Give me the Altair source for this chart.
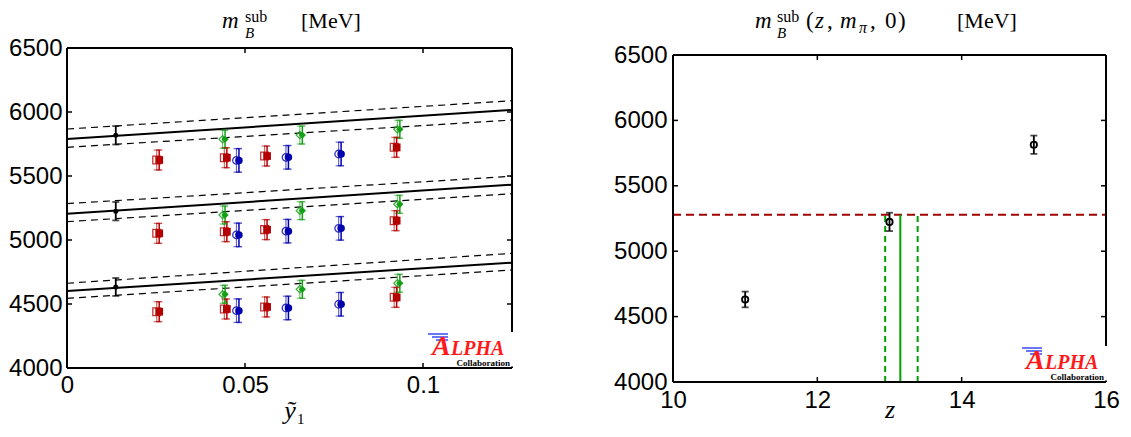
import altair as alt
import pandas as pd

# ---------------- left panel data ----------------
cont_x = [0.0137, 0.0137, 0.0137]
cont_mB = [4633, 5225, 5818]
cont_err = [70, 72, 72]

red_x = [0.0259, 0.0449, 0.0562, 0.0926]
red_z11 = [4440, 4461, 4477, 4552]
red_z13 = [5052, 5065, 5081, 5151]
red_z15 = [5625, 5643, 5656, 5724]
red_err = [78, 78, 78, 78]

blue_x = [0.0483, 0.0622, 0.0770]
blue_z11 = [4448, 4469, 4498]
blue_z13 = [5040, 5069, 5091]
blue_z15 = [5622, 5646, 5672]
blue_err = [92, 92, 92]

green_x = [0.0444, 0.0661, 0.0935]
green_z11 = [4576, 4615, 4662]
green_z13 = [5195, 5229, 5279]
green_z15 = [5787, 5820, 5865]
green_err = [70, 70, 70]

fit_x = [0.0, 0.125]
fit_z11 = [4602, 4823]
fit_z11_hi = [4662, 4896]
fit_z11_lo = [4544, 4766]
fit_z13 = [5205, 5432]
fit_z13_hi = [5284, 5498]
fit_z13_lo = [5143, 5362]
fit_z15 = [5789, 6016]
fit_z15_hi = [5867, 6088]
fit_z15_lo = [5724, 5937]

left_x_domain = [0, 0.125]
left_x_ticks = [0, 0.05, 0.1]
y_domain = [4000, 6500]
y_ticks = [4000, 4500, 5000, 5500, 6000, 6500]

# ---------------- right panel data ----------------
z_vals = [11, 13, 15]
mB_z = [4631, 5224, 5814]
mB_z_err = [60, 70, 70]
mB_phys = [5279]
z_b = [13.15]
z_b_band = [12.94, 13.39]
right_x_domain = [10, 16]
right_x_ticks = [10, 12, 14, 16]

# ---------------- styling ----------------
SANS = "Liberation Sans"
SERIF = "Liberation Serif"
RED = "#b40000"
BLUE = "#0000b0"
GREEN = "#14a014"
OPEN_DX = -0.0007

grp_domain = ["red", "blue", "green", "black"]
grp_colors = [RED, BLUE, GREEN, "black"]
grp_shapes = ["square", "circle", "diamond", "circle"]
grp_sizes = [60, 48, 55, 22]

one = pd.DataFrame({"k": [0]})


def vrule(x1, x2, y1, y2, color="black", width=2.0, opacity=1.0):
    return alt.Chart(one).mark_rule(color=color, strokeWidth=width, opacity=opacity).encode(
        x=alt.value(x1), x2=alt.value(x2), y=alt.value(y1), y2=alt.value(y2))


def vtext(txt, x, y, size, italic=False, bold=False, color="black", font=SERIF, align="left"):
    return alt.Chart(one).mark_text(
        text=txt, font=font, fontSize=size, fontStyle="italic" if italic else "normal",
        fontWeight="bold" if bold else "normal", color=color, align=align, baseline="alphabetic"
    ).encode(x=alt.value(x), y=alt.value(y))


def frame(W, H, T=0):
    return [vrule(0, W, T, T), vrule(0, 0, T, H), vrule(W, W, T, H)]


def logo(W, H):
    return [
        alt.Chart(one).mark_rect(fill="white").encode(
            x=alt.value(W - 85), x2=alt.value(W + 1.6), y=alt.value(H - 36), y2=alt.value(H - 1.5)),
        vrule(0, W, H, H),
        vrule(W - 84, W - 64, H - 34, H - 34, color="#2a3cf0", width=1.4),
        vrule(W - 80, W - 64, H - 31, H - 31, color="#2a3cf0", width=1.4),
        vrule(W - 76, W - 64, H - 28, H - 28, color="#2a3cf0", width=1.4),
        vtext("A", W - 80, H - 13, 28, italic=True, bold=True, color="#ff1a1a"),
        vtext("LPHA", W - 61, H - 13, 20, italic=True, bold=True, color="#ff1a1a"),
        vtext("Collaboration", W - 2, H - 2, 9, bold=True, align="right"),
    ]


def inner_ticks(xs_list, ys_list, xenc, yenc, W, H, T=0, L=5):
    xdf = pd.DataFrame({"v": xs_list})
    ydf = pd.DataFrame({"v": ys_list})
    return [
        alt.Chart(xdf).mark_rule(color="black", strokeWidth=1.5).encode(
            x=xenc("v:Q"), y=alt.value(H), y2=alt.value(H - L)),
        alt.Chart(xdf).mark_rule(color="black", strokeWidth=1.5).encode(
            x=xenc("v:Q"), y=alt.value(T), y2=alt.value(T + L)),
        alt.Chart(ydf).mark_rule(color="black", strokeWidth=1.5).encode(
            y=yenc("v:Q"), x=alt.value(0), x2=alt.value(L)),
        alt.Chart(ydf).mark_rule(color="black", strokeWidth=1.5).encode(
            y=yenc("v:Q"), x=alt.value(W - L), x2=alt.value(W)),
    ]


def y_axis(pad):
    return alt.Axis(values=y_ticks, format="d", title=None, ticks=False, domain=False, grid=False,
                    labelFont=SANS, labelFontSize=24, labelColor="black", labelPadding=pad,
                    labelFlush=False, labelOverlap=False)


def x_axis(values, fmt, pad):
    return alt.Axis(values=values, format=fmt, title=None, ticks=False, domain=False, grid=False,
                    labelFont=SANS, labelFontSize=24, labelColor="black", labelPadding=pad,
                    labelFlush=False, labelOverlap=False)


# ---------------- left panel ----------------
WL, HL = 445, 320
xs_left = alt.Scale(domain=left_x_domain, nice=False, zero=False)
ys_left = alt.Scale(domain=y_domain, nice=False, zero=False)
ax_left = x_axis(left_x_ticks, ".2~f", 5)
ay_left = y_axis(5)


def XL(f):
    return alt.X(f, scale=xs_left, axis=ax_left)


def YL(f):
    return alt.Y(f, scale=ys_left, axis=ay_left)


rows = []
for grp, xs, groups, errs in [("red", red_x, [red_z11, red_z13, red_z15], red_err),
                              ("blue", blue_x, [blue_z11, blue_z13, blue_z15], blue_err),
                              ("green", green_x, [green_z11, green_z13, green_z15], green_err)]:
    for ys_ in groups:
        for x, y, e in zip(xs, ys_, errs):
            rows.append({"x": x, "y": y, "lo": y - e, "hi": y + e, "grp": grp})
pts = pd.DataFrame(rows)

cont = pd.DataFrame({"x": cont_x, "y": cont_mB, "err": cont_err})
cont["lo"] = cont["y"] - cont["err"]
cont["hi"] = cont["y"] + cont["err"]

fit_rows = []
for name, ys_, style in [("z11", fit_z11, "solid"), ("z11hi", fit_z11_hi, "dash"), ("z11lo", fit_z11_lo, "dash"),
                         ("z13", fit_z13, "solid"), ("z13hi", fit_z13_hi, "dash"), ("z13lo", fit_z13_lo, "dash"),
                         ("z15", fit_z15, "solid"), ("z15hi", fit_z15_hi, "dash"), ("z15lo", fit_z15_lo, "dash")]:
    for x, y in zip(fit_x, ys_):
        fit_rows.append({"x": x, "y": y, "name": name, "style": style})
fits = pd.DataFrame(fit_rows)

color_enc = alt.Color("grp:N", scale=alt.Scale(domain=grp_domain, range=grp_colors), legend=None)
shape_enc = alt.Shape("grp:N", scale=alt.Scale(domain=grp_domain, range=grp_shapes), legend=None)
size_enc = alt.Size("grp:N", scale=alt.Scale(domain=grp_domain, range=grp_sizes), legend=None)

dash_lines = alt.Chart(fits).transform_filter("datum.style == 'dash'").mark_line(
    color="black", strokeWidth=1.2, strokeDash=[7, 5]).encode(x=XL("x:Q"), y=YL("y:Q"), detail="name:N")
solid_lines = alt.Chart(fits).transform_filter("datum.style == 'solid'").mark_line(
    color="black", strokeWidth=2).encode(x=XL("x:Q"), y=YL("y:Q"), detail="name:N")

base_open = alt.Chart(pts).transform_calculate(xo=f"datum.x + ({OPEN_DX})")
open_bar = base_open.mark_rule(strokeWidth=1.2, opacity=0.6).encode(
    x=XL("xo:Q"), y=YL("lo:Q"), y2="hi:Q", color=color_enc)
open_cap_lo = base_open.mark_tick(orient="horizontal", size=6, thickness=1.2, opacity=0.6).encode(
    x=XL("xo:Q"), y=YL("lo:Q"), color=color_enc)
open_cap_hi = base_open.mark_tick(orient="horizontal", size=6, thickness=1.2, opacity=0.6).encode(
    x=XL("xo:Q"), y=YL("hi:Q"), color=color_enc)
open_pts = base_open.mark_point(filled=False, strokeWidth=1.3, opacity=0.8).encode(
    x=XL("xo:Q"), y=YL("y:Q"), color=color_enc, shape=shape_enc, size=size_enc)

base_f = alt.Chart(pts)
f_bar = base_f.mark_rule(strokeWidth=1.5).encode(x=XL("x:Q"), y=YL("lo:Q"), y2="hi:Q", color=color_enc)
f_cap_lo = base_f.mark_tick(orient="horizontal", size=6, thickness=1.5).encode(
    x=XL("x:Q"), y=YL("lo:Q"), color=color_enc)
f_cap_hi = base_f.mark_tick(orient="horizontal", size=6, thickness=1.5).encode(
    x=XL("x:Q"), y=YL("hi:Q"), color=color_enc)
f_pts = base_f.mark_point(filled=True, opacity=1).encode(
    x=XL("x:Q"), y=YL("y:Q"), color=color_enc, shape=shape_enc, size=size_enc)

base_c = alt.Chart(cont)
c_bar = base_c.mark_rule(strokeWidth=1.8, color="black").encode(x=XL("x:Q"), y=YL("lo:Q"), y2="hi:Q")
c_cap_lo = base_c.mark_tick(orient="horizontal", size=7, thickness=1.8, color="black").encode(
    x=XL("x:Q"), y=YL("lo:Q"))
c_cap_hi = base_c.mark_tick(orient="horizontal", size=7, thickness=1.8, color="black").encode(
    x=XL("x:Q"), y=YL("hi:Q"))
c_pts = base_c.mark_point(filled=True, opacity=1, color="black", size=25, shape="circle").encode(
    x=XL("x:Q"), y=YL("y:Q"))

left_title = [
    vtext("m", 155, -20, 23, italic=True),
    vtext("sub", 178, -26, 16),
    vtext("B", 178, -10, 15, italic=True),
    vtext("[MeV]", 234, -20, 22),
]
left_xtitle = [
    vtext("ỹ", 223, 371, 26, italic=True, align="center"),
    vtext("1", 230, 376, 15),
]
left_bound = [vrule(0, 0, -40, 0, width=0.1, opacity=0)]

left = alt.layer(
    dash_lines, solid_lines,
    open_bar, open_cap_lo, open_cap_hi, open_pts,
    f_bar, f_cap_lo, f_cap_hi, f_pts,
    c_bar, c_cap_lo, c_cap_hi, c_pts,
    *inner_ticks(left_x_ticks, y_ticks, XL, YL, WL, HL),
    *frame(WL, HL), *logo(WL, HL), *left_title, *left_xtitle, *left_bound,
).properties(width=WL, height=HL)

# ---------------- right panel ----------------
# the right plot box starts 7px lower than the left one: keep an empty strip on top
TR = 7
WR, HR = 433, 327 + TR
right_y_top = y_domain[1] + TR * (y_domain[1] - y_domain[0]) / (HR - TR)
xs_right = alt.Scale(domain=right_x_domain, nice=False, zero=False)
ys_right = alt.Scale(domain=[y_domain[0], right_y_top], nice=False, zero=False)
ax_right = x_axis(right_x_ticks, "d", 6)
ay_right = y_axis(6)


def XR(f):
    return alt.X(f, scale=xs_right, axis=ax_right)


def YR(f):
    return alt.Y(f, scale=ys_right, axis=ay_right)


rp = pd.DataFrame({"z": z_vals, "y": mB_z, "err": mB_z_err})
rp["lo"] = rp["y"] - rp["err"]
rp["hi"] = rp["y"] + rp["err"]

phys = pd.DataFrame({"y": mB_phys})
green_solid = pd.DataFrame({"z": z_b, "bot": [y_domain[0]], "top": mB_phys})
green_dash = pd.DataFrame({"z": z_b_band, "bot": [y_domain[0]] * 2, "top": mB_phys * 2})

r_hline = alt.Chart(phys).mark_rule(color="#a00000", strokeWidth=2, strokeDash=[8, 5]).encode(
    y=YR("y:Q"), x=alt.value(0), x2=alt.value(WR))
r_gsolid = alt.Chart(green_solid).mark_rule(color="#00a000", strokeWidth=2).encode(
    x=XR("z:Q"), y=YR("bot:Q"), y2="top:Q")
r_gdash = alt.Chart(green_dash).mark_rule(color="#00a000", strokeWidth=2, strokeDash=[6, 4]).encode(
    x=XR("z:Q"), y=YR("bot:Q"), y2="top:Q")
r_bar = alt.Chart(rp).mark_rule(color="black", strokeWidth=1.8).encode(x=XR("z:Q"), y=YR("lo:Q"), y2="hi:Q")
r_cap_lo = alt.Chart(rp).mark_tick(orient="horizontal", size=7, thickness=1.8, color="black").encode(
    x=XR("z:Q"), y=YR("lo:Q"))
r_cap_hi = alt.Chart(rp).mark_tick(orient="horizontal", size=7, thickness=1.8, color="black").encode(
    x=XR("z:Q"), y=YR("hi:Q"))
r_pts = alt.Chart(rp).mark_point(filled=False, color="black", strokeWidth=1.8, size=40, opacity=1,
                                 shape="circle").encode(x=XR("z:Q"), y=YR("y:Q"))

right_title = [
    vtext("m", 82, -20, 23, italic=True),
    vtext("sub", 104, -26, 16),
    vtext("B", 104, -10, 15, italic=True),
    vtext("(", 133, -20, 23),
    vtext("z", 142, -20, 23, italic=True),
    vtext(",", 154, -20, 23),
    vtext("m", 167, -20, 23, italic=True),
    vtext("π", 186, -15, 16, italic=True),
    vtext(",", 197, -20, 23),
    vtext("0", 212, -20, 23),
    vtext(")", 225, -20, 23),
    vtext("[MeV]", 284, -20, 22),
]
right_xtitle = [vtext("z", 217, 370, 26, italic=True, align="center")]
right_bound = [vrule(0, 0, -40, 0, width=0.1, opacity=0)]

right = alt.layer(
    r_hline, r_gsolid, r_gdash, r_bar, r_cap_lo, r_cap_hi, r_pts,
    *inner_ticks(right_x_ticks, y_ticks, XR, YR, WR, HR, T=TR),
    *frame(WR, HR, T=TR), *logo(WR, HR), *right_title, *right_xtitle, *right_bound,
).properties(width=WR, height=HR)

chart = alt.hconcat(left, right, spacing=97).properties(padding=0, background="white").configure_view(stroke=None)

chart.save("out.html", embed_options={"renderer": "svg", "actions": False})
